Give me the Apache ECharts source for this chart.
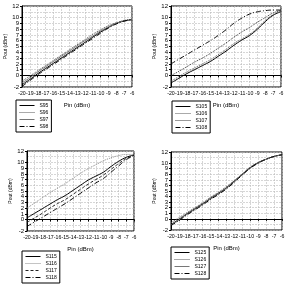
<!DOCTYPE html>
<html><head><meta charset="utf-8">
<script src="https://cdn.jsdelivr.net/npm/echarts@6/dist/echarts.min.js"></script>
<style>html,body{margin:0;padding:0;background:#fff}#c{width:295px;height:286px}</style>
</head><body><div id="c"></div>
<script>
var pin = [-20,-19,-18,-17,-16,-15,-14,-13,-12,-11,-10,-9,-8,-7,-6];
var yTicks = [-2,-1,0,1,2,3,4,5,6,7,8,9,10,11,12];

var namesA = ['S95','S96','S97','S98'];
var s95 = [-1.6,-0.7,0.3,1.2,2.1,3.0,3.9,4.8,5.7,6.6,7.5,8.3,9.0,9.4,9.6];
var s96 = [-1.0,-0.1,0.8,1.7,2.6,3.5,4.4,5.3,6.2,7.1,7.9,8.6,9.1,9.5,9.7];
var s97 = [-1.3,-0.4,0.6,1.5,2.4,3.3,4.2,5.1,6.0,6.8,7.7,8.4,9.0,9.4,9.6];
var s98 = [-1.9,-0.9,0.1,1.0,1.9,2.8,3.7,4.6,5.5,6.4,7.3,8.2,8.9,9.4,9.7];

var namesB = ['S105','S106','S107','S108'];
var s105 = [-1.3,-0.5,0.3,1.0,1.7,2.4,3.3,4.2,5.2,6.1,6.9,8.0,9.3,10.4,11.0];
var s106 = [-1.0,-0.2,0.6,1.3,2.0,2.7,3.6,4.5,5.5,6.3,7.1,8.2,9.5,10.5,11.1];
var s107 = [0.0,0.7,1.5,2.3,3.0,3.8,4.7,5.6,6.6,7.5,8.3,9.2,10.0,10.8,11.2];
var s108 = [2.0,2.8,3.6,4.4,5.2,6.0,6.9,7.9,9.0,9.9,10.6,11.0,11.2,11.3,11.3];

var namesC = ['S115','S116','S117','S118'];
var s115 = [0.3,1.1,1.9,2.7,3.5,4.2,5.1,6.0,6.9,7.6,8.3,9.3,10.2,10.9,11.3];
var s116 = [2.0,2.9,3.8,4.7,5.5,6.3,7.2,8.1,8.9,9.6,10.3,10.8,11.2,11.4,11.4];
var s117 = [-0.5,0.3,1.1,2.0,2.8,3.5,4.4,5.3,6.2,7.0,7.8,8.8,9.8,10.7,11.3];
var s118 = [-1.2,-0.4,0.4,1.2,2.0,2.8,3.7,4.6,5.5,6.4,7.2,8.3,9.4,10.5,11.2];

var namesD = ['S125','S126','S127','S128'];
var s125 = [-1.0,-0.1,0.9,1.8,2.7,3.7,4.6,5.6,6.8,8.0,9.2,10.1,10.7,11.2,11.5];
var s126 = [-0.7,0.2,1.1,2.0,2.9,3.9,4.8,5.8,6.9,8.1,9.3,10.1,10.7,11.2,11.5];
var s127 = [-1.1,-0.2,0.8,1.7,2.6,3.6,4.5,5.5,6.7,7.9,9.1,10.0,10.7,11.2,11.5];
var s128 = [-1.2,-0.3,0.7,1.6,2.5,3.5,4.4,5.4,6.6,7.9,9.1,10.0,10.7,11.2,11.5];

var styles = [
  {type:'solid', color:'#000', width:1},
  {type:[1,1], color:'#555', width:1},
  {type:'solid', color:'#777', width:1},
  {type:[5,2,1,2], color:'#000', width:1}
];
var stylesB = [
  {type:'solid', color:'#000', width:1},
  {type:[1,1], color:'#555', width:1},
  {type:[1,1], color:'#333', width:1},
  {type:[5,2,1,2], color:'#000', width:1}
];
var stylesC = [
  {type:'solid', color:'#000', width:1},
  {type:[1,1], color:'#888', width:1},
  {type:[3,2], color:'#222', width:1},
  {type:[5,2,1,2], color:'#000', width:1}
];

var font = 'Liberation Sans';
var grids = [
  {left:22, top:6, width:110, height:81},
  {left:171, top:6, width:110, height:81},
  {left:27, top:151, width:107, height:80},
  {left:171, top:152, width:111, height:78}
];
function xAx(i){return {type:'value', gridIndex:i, min:-20, max:-6, interval:1,
  name:'Pin (dBm)', nameLocation:'middle', nameGap:15,
  nameTextStyle:{fontSize:6, fontFamily:font, color:'#000'},
  axisLine:{lineStyle:{color:'#000', width:1}}, axisTick:{show:true, length:2, lineStyle:{color:'#000'}},
  axisLabel:{fontSize:5.2, fontFamily:font, color:'#000', margin:4, showMinLabel:true, showMaxLabel:true, hideOverlap:false},
  splitLine:{show:true, lineStyle:{color:'#bbb', type:[2,1], width:0.6}}};}
function yAx(i){return {type:'value', gridIndex:i, min:-2, max:12, interval:1,
  name:'Pout (dBm)', nameLocation:'middle', nameGap:11, nameRotate:90,
  nameTextStyle:{fontSize:5, fontFamily:font, color:'#000'},
  axisLine:{lineStyle:{color:'#000', width:1}}, axisTick:{show:true, length:2, lineStyle:{color:'#000'}},
  axisLabel:{fontSize:6, fontFamily:font, color:'#000', margin:3, showMinLabel:true, showMaxLabel:true, hideOverlap:false},
  splitLine:{show:true, lineStyle:{color:'#bbb', type:[2,1], width:0.6}}};}

var groups = [
  {names:namesA, data:[s95,s96,s97,s98], st:styles},
  {names:namesB, data:[s105,s106,s107,s108], st:stylesB},
  {names:namesC, data:[s115,s116,s117,s118], st:stylesC},
  {names:namesD, data:[s125,s126,s127,s128], st:styles}
];
var series = [];
groups.forEach(function(g, gi){
  g.data.forEach(function(arr, k){
    series.push({type:'line', name:g.names[k], xAxisIndex:gi, yAxisIndex:gi,
      data: pin.map(function(x,j){return [x, arr[j]];}),
      symbol:'none', smooth:true, animation:false,
      lineStyle:g.st[k], itemStyle:{color:g.st[k].color}});
  });
});
var legendPos = [
  {left:16, top:100},
  {left:172, top:101},
  {left:22, top:251},
  {left:171, top:247}
];
var legends = groups.map(function(g, gi){
  return {show:true, data:g.names, orient:'vertical', left:legendPos[gi].left, top:legendPos[gi].top,
    borderColor:'#000', borderWidth:1, padding:[3,3,3,3], itemGap:2,
    itemWidth:15, itemHeight:5,
    itemStyle:{opacity:0},
    lineStyle:{width:1},
    textStyle:{fontSize:5, fontFamily:font, color:'#000'},
    selectedMode:false};
});

var chart = echarts.init(document.getElementById('c'), null, {renderer:'canvas'});
chart.setOption({
  animation:false,
  backgroundColor:'#fff',
  grid: grids.map(function(g){return Object.assign({show:true, borderColor:'#000', borderWidth:1, backgroundColor:'transparent'}, g);}),
  xAxis:[0,1,2,3].map(xAx),
  yAxis:[0,1,2,3].map(yAx),
  legend: legends,
  series: series
});
</script>
</body></html>
